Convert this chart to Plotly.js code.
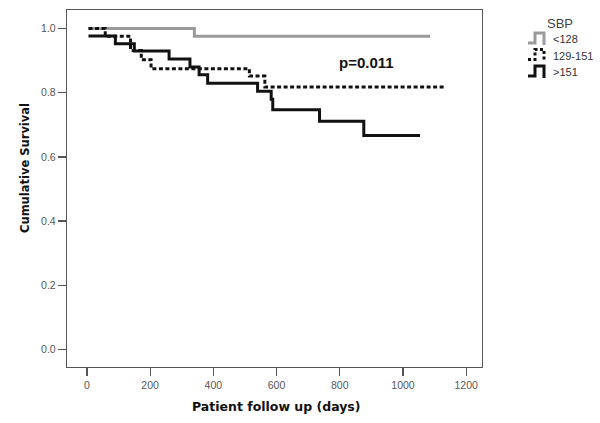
<!DOCTYPE html>
<html>
<head>
<meta charset="utf-8">
<script src="https://cdn.plot.ly/plotly-3.0.1.min.js"></script>
<style>
  html, body { margin: 0; padding: 0; background: #fff; }
  #chart { width: 600px; height: 423px; }
</style>
</head>
<body>
<div id="chart"></div>
<script>
// Kaplan-Meier curves by SBP group
const grupos = ['<128', '129-151', '>151'];

const diasBajo = [5, 340, 1086];
const survBajo = [1.0, 0.976, 0.976];

const diasMedio = [5, 58, 138, 172, 203, 514, 563, 1129];
const survMedio = [1.0, 0.976, 0.932, 0.903, 0.875, 0.852, 0.818, 0.818];

const diasAlto = [5, 90, 150, 260, 326, 355, 382, 540, 583, 588, 736, 876, 1054];
const survAlto = [0.977, 0.953, 0.930, 0.905, 0.880, 0.856, 0.830, 0.805, 0.780, 0.747, 0.711, 0.667, 0.667];

const pValor = 'p=0.011';

const ejeX = [0, 200, 400, 600, 800, 1000, 1200];
const ejeY = [0.0, 0.2, 0.4, 0.6, 0.8, 1.0];

const FUENTE = 'Liberation Sans, Arial, sans-serif';
const FUENTE_TIT = 'DejaVu Sans, Verdana, sans-serif';
const colores = ['#9a9a9a', '#111', '#111'];
const guiones = ['solid', '4px,2.5px', 'solid'];

const traces = [
    { x: diasBajo, y: survBajo },
    { x: diasMedio, y: survMedio },
    { x: diasAlto, y: survAlto },
].map((t, i) => ({
    x: t.x, y: t.y, name: grupos[i], type: 'scatter', mode: 'lines',
    line: { shape: 'hv', color: colores[i], width: 3, dash: guiones[i] },
}));

// plot area in pixels -> paper coords (for the hand-drawn legend and titles)
const M = { l: 67, r: 118, t: 10, b: 56 };
const W = 600 - M.l - M.r, H = 423 - M.t - M.b;
const px = v => (v - M.l) / W;
const py = v => (423 - M.b - v) / H;

const nota = (x, y, text, font, extra) => Object.assign({
    x: px(x), y: py(y), xref: 'paper', yref: 'paper', text: text, showarrow: false,
    xanchor: 'center', yanchor: 'middle', font: font,
}, extra || {});

const shapes = [];
const annotations = [
    {
        x: 885, y: 0.895, xref: 'x', yref: 'y', text: '<b>' + pValor + '</b>', showarrow: false,
        font: { family: FUENTE, size: 15, color: '#111' },
    },
    nota(276, 406, '<b>Patient follow up (days)</b>', { family: FUENTE_TIT, size: 12.5, color: '#111' }),
    nota(25, 168, '<b>Cumulative Survival</b>', { family: FUENTE_TIT, size: 11.5, color: '#111' }, { textangle: -90 }),
    nota(560, 24, 'SBP', { family: FUENTE, size: 13, color: '#444' }),
];

// legend: little step glyph + label per group
grupos.forEach((g, i) => {
    const top = 33 + i * 16.5;
    const pts = [[528, top + 10], [535, top + 10], [535, top], [544, top], [544, top + 12]];
    shapes.push({
        type: 'path', xref: 'paper', yref: 'paper',
        path: 'M' + pts.map(p => px(p[0]) + ',' + py(p[1])).join(' L'),
        line: { color: colores[i], width: 3, dash: i === 1 ? '3px,2.5px' : 'solid' },
    });
    annotations.push(nota(551, top + 6, g, { family: FUENTE, size: 11, color: '#333' }, { xanchor: 'left' }));
});

const axisBase = {
    showgrid: false, zeroline: false, showline: true, mirror: true,
    linecolor: '#555', linewidth: 1.2,
    ticks: 'outside', ticklen: 8, tickcolor: '#555', tickwidth: 1.2,
    tickfont: { family: FUENTE, size: 10.5, color: '#555' },
};

const layout = {
    width: 600, height: 423,
    paper_bgcolor: '#fff', plot_bgcolor: '#fff',
    margin: Object.assign({ autoexpand: false }, M),
    showlegend: false,
    xaxis: Object.assign({}, axisBase, { range: [-63, 1250], tickvals: ejeX }),
    yaxis: Object.assign({}, axisBase, { range: [-0.055, 1.058], tickvals: ejeY, tickformat: '.1f' }),
    shapes: shapes,
    annotations: annotations,
};

Plotly.newPlot('chart', traces, layout, { staticPlot: true });
</script>
</body>
</html>
